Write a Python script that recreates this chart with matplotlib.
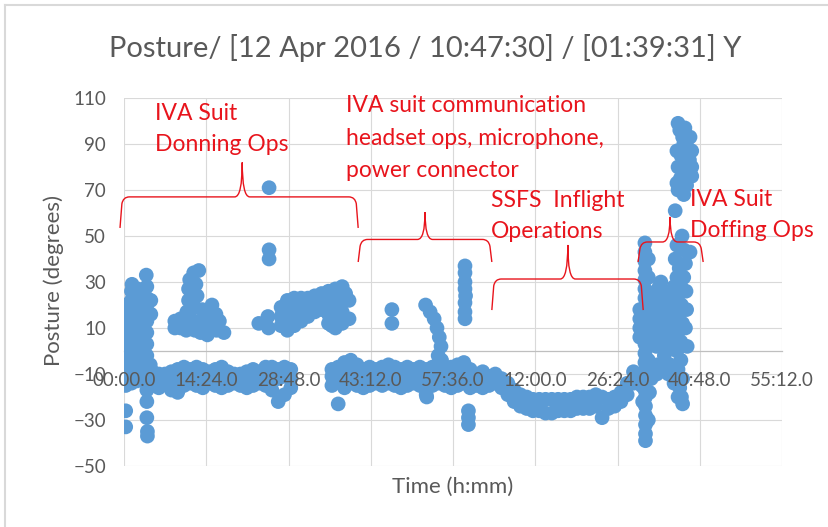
import numpy as np
import matplotlib
matplotlib.use("Agg")
import matplotlib.pyplot as plt
from matplotlib.path import Path
from matplotlib.patches import PathPatch
from matplotlib.lines import Line2D

# posture samples: (elapsed minutes, degrees)
donning_column = [
    (0.3, -15), (0.3, -11), (0.3, -7), (0.3, -3), (0.3, 1), (0.3, 5), (0.3, 9), (0.3, 13), (0.3, 17), (0.3, 20),
    (1.3, -14), (1.3, -10), (1.3, -6), (1.3, -2), (1.3, 2), (1.3, 6), (1.3, 10), (1.3, 14), (1.3, 18), (1.3, 22),
    (1.3, 26), (1.4, 29),
    (2.3, -13), (2.3, -9), (2.3, -5), (2.3, -1), (2.3, 3), (2.3, 7), (2.3, 11), (2.3, 15), (2.3, 19), (2.3, 23),
    (2.4, 27),
    (3.3, -12), (3.3, -8), (3.3, -4), (3.3, 0), (3.3, 4), (3.3, 8), (3.3, 12), (3.3, 16), (3.3, 20), (3.3, 24),
    (4.0, -17), (4.0, -13), (4.0, -8), (4.0, -2), (4.0, 3), (4.0, 8), (4.0, 13), (4.0, 18), (4.0, 23), (4.0, 28),
    (3.9, 33), (4.6, -6), (4.7, 16), (4.7, 22),
    (0.3, -26), (0.3, -33), (4.0, -22), (4.0, -29), (4.1, -35), (4.1, -37),
]

donning_upper = [
    # block around 14:24
    (8.9, 13), (8.9, 10), (9.9, 14), (9.9, 10), (10.9, 13), (10.9, 9), (11.0, 17), (11.3, 22), (11.3, 27),
    (11.5, 31), (12.2, 34), (12.6, 29), (13.1, 35), (12.8, 24), (12.4, 19), (12.3, 13), (12.4, 9), (13.4, 8),
    (13.5, 13), (13.7, 18), (14.4, 11), (14.6, 7), (14.9, 15), (15.4, 20), (15.5, 12), (16.1, 16), (16.2, 9),
    (16.7, 13), (17.5, 8),
    # outliers near 25 min
    (23.6, 12), (25.2, 15), (25.3, 10), (25.4, 71), (25.4, 44), (25.4, 40),
    # rising block up to 43:12
    (27.5, 11), (27.5, 15), (27.5, 19), (28.0, 16),
    (28.6, 9), (28.6, 13), (28.6, 18), (28.6, 22),
    (29.8, 11), (29.8, 15), (29.8, 20), (29.8, 23), (30.4, 18),
    (31.0, 13), (31.0, 17), (31.0, 21), (31.0, 23), (31.6, 19),
    (32.2, 15), (32.2, 19), (32.2, 23), (32.8, 21),
    (33.4, 17), (33.4, 21), (33.4, 24), (34.0, 20),
    (34.6, 18), (34.6, 22), (34.6, 25), (35.2, 22),
    (35.8, 12), (35.8, 16), (35.8, 20), (35.8, 24), (35.8, 26), (36.4, 18), (36.4, 11),
    (37.0, 10), (37.0, 14), (37.0, 18), (37.0, 22), (37.0, 27), (37.6, 20), (37.6, 12),
    (38.2, 12), (38.2, 17), (38.2, 22), (38.2, 28), (38.8, 25),
    (39.4, 14), (39.4, 22),
]

donning_band_t = [5.0, 6.1, 7.2, 8.3, 9.4, 10.5, 11.6, 12.7, 13.8, 14.9, 16.0, 17.1,
                  18.2, 19.3, 20.4, 21.5, 22.6, 23.7, 24.8, 25.9, 27.0, 28.1, 29.2]
donning_band_hi = [-9, -10, -10, -9, -8, -7, -8, -7, -8, -9, -8, -7,
                   -9, -10, -10, -9, -8, -9, -7, -7, -8, -7, -8]
donning_band_mid = [-12, -13, -12, -13, -12, -11, -11, -11, -12, -11, -12, -11,
                    -12, -12, -13, -12, -11, -12, -11, -12, -12, -11, -12]
donning_band_lo = [-15, -16, -14, -17, -18, -15, -14, -15, -16, -14, -15, -16,
                   -15, -14, -15, -16, -15, -14, -15, -17, -22, -19, -16]

comms_upper = [
    (46.9, 18), (46.9, 12),
    (52.8, 20), (53.6, 17), (54.3, 14), (54.8, 10), (55.2, 6), (55.5, 2), (55.0, -2), (55.6, -4),
    (59.7, 37), (59.7, 34), (59.7, 30), (59.7, 27), (59.8, 24), (59.7, 21), (59.7, 17), (59.7, 14),
    (60.3, -26), (60.3, -29), (60.3, -32), (53.0, -20),
]

comms_band_t = [36.4, 37.5, 38.6, 39.7, 40.8, 41.9, 43.0, 44.1, 45.2, 46.3, 47.4, 48.5, 49.6,
                50.7, 51.8, 52.9, 54.0, 55.1, 56.2, 57.3, 58.4, 59.5, 60.6, 61.7, 62.8, 63.9]
comms_band_hi = [-8, -7, -5, -4, -6, -8, -7, -8, -7, -6, -7, -8, -7,
                 -8, -7, -8, -7, -6, -7, -7, -6, -5, -8, -10, -9, -11]
comms_band_mid = [-11, -12, -10, -9, -10, -12, -11, -11, -11, -10, -11, -12, -11,
                  -11, -11, -12, -11, -10, -11, -11, -10, -10, -12, -13, -12, -13]
comms_band_lo = [-15, -23, -16, -14, -15, -16, -15, -14, -15, -14, -15, -16, -15,
                 -14, -15, -19, -15, -14, -15, -16, -15, -14, -16, -15, -16, -15]

ssfs_band_t = [65.0, 66.1, 67.2, 68.3, 69.4, 70.5, 71.6, 72.7, 73.8, 74.9, 76.0, 77.1,
               78.2, 79.3, 80.4, 81.5, 82.6, 83.7, 84.8, 85.9, 87.0, 88.1, 89.2]
ssfs_band_hi = [-10, -12, -14, -17, -19, -20, -21, -21, -21, -21, -21, -21,
                -21, -20, -20, -20, -19, -20, -21, -20, -18, -14, -9]
ssfs_band_lo = [-14, -16, -19, -22, -24, -25, -26, -26, -27, -27, -26, -26,
                -26, -25, -25, -25, -24, -29, -25, -24, -22, -19, -14]

doffing = [
    # left column
    (91.2, 47), (91.2, 43), (91.2, 39), (91.2, 35), (91.2, 31), (91.2, 27), (91.2, 23), (91.2, 19),
    (91.2, 15), (91.2, 11), (91.2, 7), (91.2, 3), (91.2, -1), (91.2, -5), (91.2, -9), (91.2, -13),
    (91.2, -17), (91.3, -20), (91.3, -24), (91.3, -28), (91.3, -32), (91.3, -36), (91.3, -39),
    (90.3, 18), (90.3, 14), (90.3, 10), (90.3, 6), (90.6, -10), (90.6, -15),
    (91.8, 40), (91.8, 32), (91.8, 20), (91.8, 10), (91.8, -30), (90.8, -22),
    # middle mass
    (92.2, 24), (92.2, 20), (92.2, 16), (92.2, 12), (92.2, 8), (92.2, 4),
    (93.2, 26), (93.2, 22), (93.2, 18), (93.2, 14), (93.2, 10), (93.2, 6), (93.2, 2),
    (94.0, 30), (94.2, 26), (94.2, 22), (94.2, 18), (94.2, 14), (94.2, 10), (94.2, 6), (94.2, 2),
    (95.2, 25), (95.2, 20), (95.2, 16), (95.2, 12), (95.2, 8), (95.2, 4),
    (96.0, 18), (96.0, 14), (96.0, 10), (96.0, 5),
    (92.7, 22), (92.7, 14), (92.7, 6), (93.7, 28), (93.7, 20), (93.7, 12), (93.7, 4),
    (94.7, 24), (94.7, 16), (94.7, 8), (95.7, 22), (95.7, 12), (95.7, 1),
    (91.8, -4), (92.4, -8), (92.3, -12), (93.4, -6), (93.3, -10), (94.6, -2), (94.3, -7),
    (95.6, -6), (95.3, -10), (96.2, -10), (96.3, -14), (92.0, -18),
    # right column
    (96.5, 40), (97.2, 36), (96.8, 32), (97.5, 28), (97.0, 24), (97.6, 20), (97.2, 16), (97.8, 12),
    (97.0, 8), (97.5, 4), (96.8, 0), (97.5, -4), (97.0, -8), (97.8, -12), (97.3, -16), (97.6, -20),
    (97.8, -23), (98.3, 38), (98.0, 32), (98.4, 26), (98.5, 18), (98.3, 10), (98.6, 2),
    (96.3, 28), (96.3, 20), (96.5, 12), (96.4, 4), (98.0, 44), (97.0, -20),
    # top cluster
    (97.0, 99), (97.3, 96), (99.1, 93), (96.8, 87), (99.4, 87), (97.0, 80), (99.4, 80), (96.8, 73),
    (99.4, 76), (97.0, 70), (96.5, 61), (97.7, 50), (99.1, 43), (96.8, 46),
    (98.2, 97), (98.2, 91), (97.5, 85), (98.0, 90), (98.2, 84), (99.0, 83), (98.0, 77),
    (98.5, 72), (98.0, 68), (97.8, 93), (98.8, 88), (97.4, 75), (98.8, 78),
]

x_ticks = [0, 14.4, 28.8, 43.2, 57.6, 72.0, 86.4, 100.8, 115.2]
x_tick_labels = ["00:00.0", "14:24.0", "28:48.0", "43:12.0", "57:36.0",
                 "12:00.0", "26:24.0", "40:48.0", "55:12.0"]
y_ticks = [-50, -30, -10, 10, 30, 50, 70, 90, 110]

# (left, right, tip x, line y, end y, tip y) in data units
brackets = [
    (-0.7, 41.0, 20.7, 67.0, 53.5, 82.0),
    (41.0, 64.4, 52.7, 48.5, 38.7, 60.4),
    (64.4, 90.9, 77.7, 31.3, 17.8, 46.1),
    (90.0, 101.4, 95.6, 47.4, 38.7, 58.3),
]
notes = [
    (155, [120, 151], ["IVA Suit", "Donning Ops"]),
    (346, [112, 145, 177], ["IVA suit communication", "headset ops, microphone,", "power connector"]),
    (491, [207, 238], ["SSFS  Inflight", "Operations"]),
    (690, [206, 237], ["IVA Suit", "Doffing Ops"]),
]

BLUE = "#5b9bd5"
RED = "#e8141c"
TXT = "#595959"
GRID = "#d9d9d9"
W, H = 829, 527

plt.rcParams["font.family"] = ["Lato", "DejaVu Sans"]

fig = plt.figure(figsize=(W / 100, H / 100), dpi=100)
ax = fig.add_axes([124 / W, 61 / H, 658 / W, 368 / H])

pts = list(donning_column) + list(donning_upper) + list(comms_upper) + list(doffing)
for bt, rows in ((donning_band_t, (donning_band_hi, donning_band_mid, donning_band_lo)),
                 (comms_band_t, (comms_band_hi, comms_band_mid, comms_band_lo)),
                 (ssfs_band_t, (ssfs_band_hi, ssfs_band_lo))):
    for row in rows:
        pts += list(zip(bt, row))
pts = np.array(pts, dtype=float)
ax.scatter(pts[:, 0], pts[:, 1], s=112, color=BLUE, edgecolors="none", zorder=2)

ax.set_xlim(0, 115.2)
ax.set_ylim(-50, 110)
for y in y_ticks:
    ax.axhline(y, color=GRID, lw=0.8, zorder=0)
for x in x_ticks:
    ax.axvline(x, color=GRID, lw=0.8, zorder=0)

for s in ("top", "right", "left"):
    ax.spines[s].set_visible(False)
ax.spines["bottom"].set_position(("data", 0))
ax.spines["bottom"].set_color("#bfbfbf")
ax.spines["bottom"].set_linewidth(0.9)
ax.spines["bottom"].set_zorder(1)
ax.xaxis.set_zorder(3)

ax.set_xticks(x_ticks, x_tick_labels)
ax.set_yticks(y_ticks)
ax.tick_params(axis="x", length=0, pad=15, labelsize=13.5, labelcolor=TXT)
ax.tick_params(axis="y", length=0, pad=13, labelsize=13.5, labelcolor=TXT)

MOVETO, LINETO, CURVE3 = Path.MOVETO, Path.LINETO, Path.CURVE3
rx, ry = 1.1, 3.0
for x0, x1, xm, yl, ye, yt in brackets:
    verts = [(x0, ye), (x0 + 0.3 * rx, yl - ry), (x0 + 0.5 * rx, yl), (x0 + 1.5 * rx, yl),
             (xm - 1.2 * rx, yl), (xm, yl), (xm, yt), (xm, yl), (xm + 1.2 * rx, yl),
             (x1 - 1.5 * rx, yl), (x1 - 0.5 * rx, yl), (x1 - 0.3 * rx, yl - ry), (x1, ye)]
    codes = [MOVETO, LINETO, CURVE3, CURVE3, LINETO, CURVE3, CURVE3, CURVE3, CURVE3,
             LINETO, CURVE3, CURVE3, LINETO]
    ax.add_patch(PathPatch(Path(verts, codes), fill=False, edgecolor=RED, lw=1.0,
                           clip_on=False, zorder=4))

for x, ys, lines in notes:
    for y, line in zip(ys, lines):
        fig.text(x / W, 1 - y / H, line, color=RED, fontsize=16.5, ha="left", va="baseline")

fig.text(425 / W, 1 - 48 / H, "Posture/ [12 Apr 2016 / 10:47:30] / [01:39:31] Y",
         ha="center", va="center", fontsize=21, color=TXT)
fig.text(54 / W, 1 - 281 / H, "Posture (degrees)", rotation=90, ha="center", va="center",
         fontsize=16, color=TXT)
fig.text(453 / W, 1 - 487 / H, "Time (h:mm)", ha="center", va="center", fontsize=16, color=TXT)

# chart frame (only top and left edges fall inside the image)
fig.add_artist(Line2D([5 / W, 1], [1 - 5 / H, 1 - 5 / H], color=GRID, lw=1.5))
fig.add_artist(Line2D([5 / W, 5 / W], [0, 1 - 5 / H], color=GRID, lw=1.5))

fig.savefig("out.png", dpi=100, facecolor="white")
